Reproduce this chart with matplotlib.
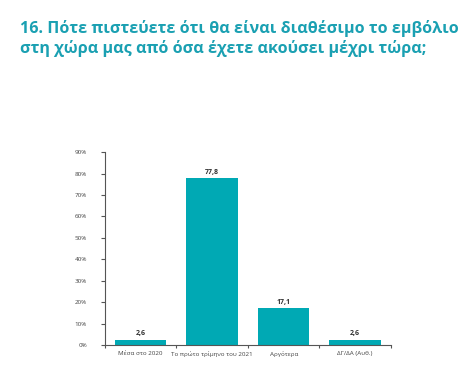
import matplotlib
matplotlib.use("Agg")
import matplotlib.pyplot as plt

categories = ["Μέσα στο 2020", "Το πρώτο τρίμηνο του 2021", "Αργότερα", "ΔΓ/ΔΑ (Αυθ.)"]
values = [2.6, 77.8, 17.1, 2.6]
value_labels = ["2,6", "77,8", "17,1", "2,6"]
yticks = list(range(0, 91, 10))

plt.rcParams['font.family'] = ['Open Sans', 'DejaVu Sans']

teal = "#00A9B4"
fig = plt.figure(figsize=(4.75, 3.86), dpi=100)
fig.text(0.042, 0.948, "16. Πότε πιστεύετε ότι θα είναι διαθέσιμο το εμβόλιο\nστη χώρα μας από όσα έχετε ακούσει μέχρι τώρα;",
         color="#1AA0B2", fontsize=11.6, fontweight="bold", va="top", ha="left", linespacing=1.2)

ax = fig.add_axes([0.221, 0.106, 0.602, 0.5])
x = range(len(categories))
ax.bar(x, values, width=0.72, color=teal)
for i, v in enumerate(values):
    ax.text(i, v + 1.2, value_labels[i], ha="center", va="bottom", fontsize=5,
            fontweight="bold", color="#333333")

ax.set_xlim(-0.5, len(categories) - 0.5)
ax.set_ylim(0, 90)
ax.set_yticks(yticks)
ax.set_yticklabels([f"{t}%" for t in yticks], fontsize=4.5, color="#444444")
ax.set_xticks(list(x))
ax.set_xticklabels(categories, fontsize=4.5, color="#444444")
ax.tick_params(axis="x", length=0, pad=4)
ax.tick_params(axis="y", length=3, width=0.8, color="#555555", pad=10)
ax.set_xticks([i + 0.5 for i in range(-1, len(categories))], minor=True)
ax.tick_params(axis="x", which="minor", length=2, width=0.8, color="#555555")
for s in ["top", "right"]:
    ax.spines[s].set_visible(False)
ax.spines["left"].set_color("#555555")
ax.spines["bottom"].set_color("#555555")

fig.savefig("out.png", dpi=100)
